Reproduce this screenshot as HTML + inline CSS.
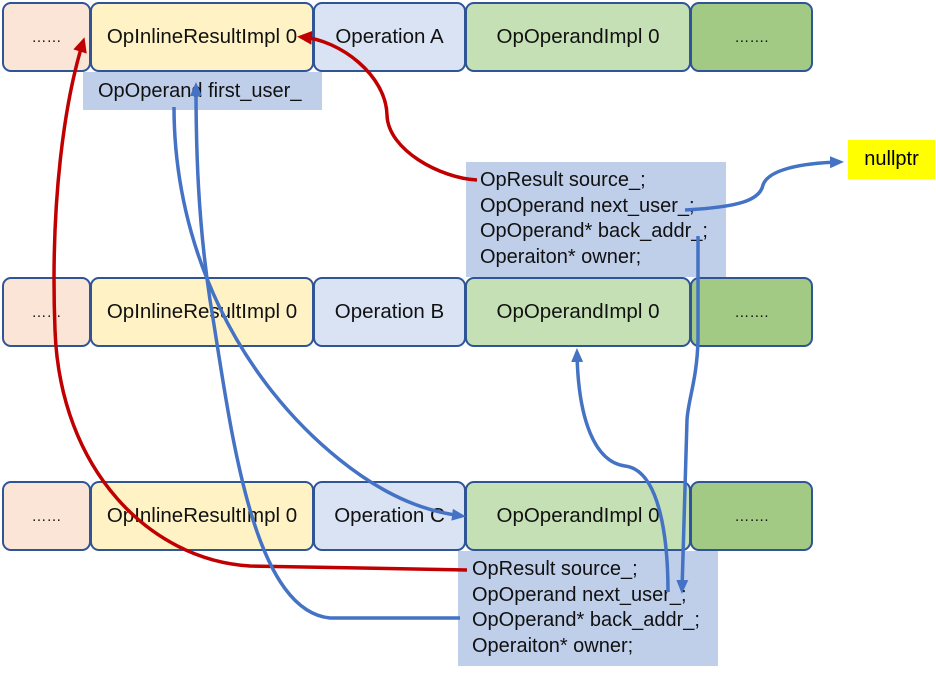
<!DOCTYPE html>
<html><head><meta charset="utf-8"><style>
body{margin:0;width:936px;height:674px;background:#fff;position:relative;overflow:hidden;font-family:"Liberation Sans","Noto Sans CJK SC",sans-serif;}
.b{position:absolute;box-sizing:border-box;border:2px solid #2f5597;border-radius:9px;display:flex;align-items:center;justify-content:center;font-size:20.5px;color:#111;}
.p{background:#fbe5d6}.y{background:#fff2c4}.l{background:#dae3f3}.g{background:#c5e0b4}.d{background:#a2ca85}
.info{position:absolute;background:#bfcfea;font-size:20px;line-height:25.5px;color:#111;box-sizing:border-box;padding-left:14px;white-space:nowrap;}
.dots{font-size:15px}
</style></head><body>
<div class="b p dots" style="left:2px;top:2px;width:89px;height:70px">……</div>
<div class="b y" style="left:90px;top:2px;width:224px;height:70px">OpInlineResultImpl 0</div>
<div class="b l" style="left:313px;top:2px;width:153px;height:70px">Operation A</div>
<div class="b g" style="left:465px;top:2px;width:226px;height:70px">OpOperandImpl 0</div>
<div class="b d dots" style="left:690px;top:2px;width:123px;height:70px">…….</div>

<div class="b p dots" style="left:2px;top:277px;width:89px;height:70px">……</div>
<div class="b y" style="left:90px;top:277px;width:224px;height:70px">OpInlineResultImpl 0</div>
<div class="b l" style="left:313px;top:277px;width:153px;height:70px">Operation B</div>
<div class="b g" style="left:465px;top:277px;width:226px;height:70px">OpOperandImpl 0</div>
<div class="b d dots" style="left:690px;top:277px;width:123px;height:70px">…….</div>

<div class="b p dots" style="left:2px;top:481px;width:89px;height:70px">……</div>
<div class="b y" style="left:90px;top:481px;width:224px;height:70px">OpInlineResultImpl 0</div>
<div class="b l" style="left:313px;top:481px;width:153px;height:70px">Operation C</div>
<div class="b g" style="left:465px;top:481px;width:226px;height:70px">OpOperandImpl 0</div>
<div class="b d dots" style="left:690px;top:481px;width:123px;height:70px">…….</div>

<div class="info" style="left:83px;top:72px;width:239px;height:38px;padding-left:15px;line-height:38px;">OpOperand first_user_</div>
<div class="info" style="left:466px;top:162px;width:260px;height:115px;padding-top:6px;">OpResult source_;<br>OpOperand next_user_;<br>OpOperand* back_addr_;<br>Operaiton* owner;</div>
<div class="info" style="left:458px;top:551px;width:260px;height:115px;padding-top:6px;">OpResult source_;<br>OpOperand next_user_;<br>OpOperand* back_addr_;<br>Operaiton* owner;</div>
<div style="position:absolute;left:848px;top:140px;width:87px;height:39px;background:#ffff00;font-size:20px;display:flex;align-items:center;justify-content:center;">nullptr</div>

<svg width="936" height="674" style="position:absolute;left:0;top:0" fill="none" stroke-width="3.5">
<defs>
<marker id="ab" markerWidth="14" markerHeight="12" refX="10" refY="6" orient="auto" markerUnits="userSpaceOnUse"><path d="M0,0L14,6L0,12z" fill="#4472c4" stroke="none"/></marker>
<marker id="ar2" markerWidth="15" markerHeight="14" refX="10" refY="7" orient="auto" markerUnits="userSpaceOnUse"><path d="M0,0L15,7L0,14z" fill="#c00000" stroke="none"/></marker>
</defs>
<g stroke="#c00000">
<path d="M477,180 C440,178 388,150 387,115 C386,75 340,40 302,37" marker-end="url(#ar2)"/>
<path d="M467,570 L250,566 C150,560 60,470 55,330 C50,200 65,100 83,42" marker-end="url(#ar2)"/>
</g>
<g stroke="#4472c4">
<path d="M174,107 C174,250 240,380 340,460 C390,500 430,512 462,516" marker-end="url(#ab)"/>
<path d="M460,618 L330,618 C250,610 230,420 210,300 C198,220 196,150 196,86" marker-end="url(#ab)"/>
<path d="M685,210 C740,207 760,200 763,185 C768,170 800,163 840,162" marker-end="url(#ab)"/>
<path d="M698,236 L698,340 C697,380 688,400 687,420 L682,590" marker-end="url(#ab)"/>
<path d="M668,592 C668,540 660,470 625,466 C595,462 578,420 577,352" marker-end="url(#ab)"/>
</g>
</svg>
</body></html>
